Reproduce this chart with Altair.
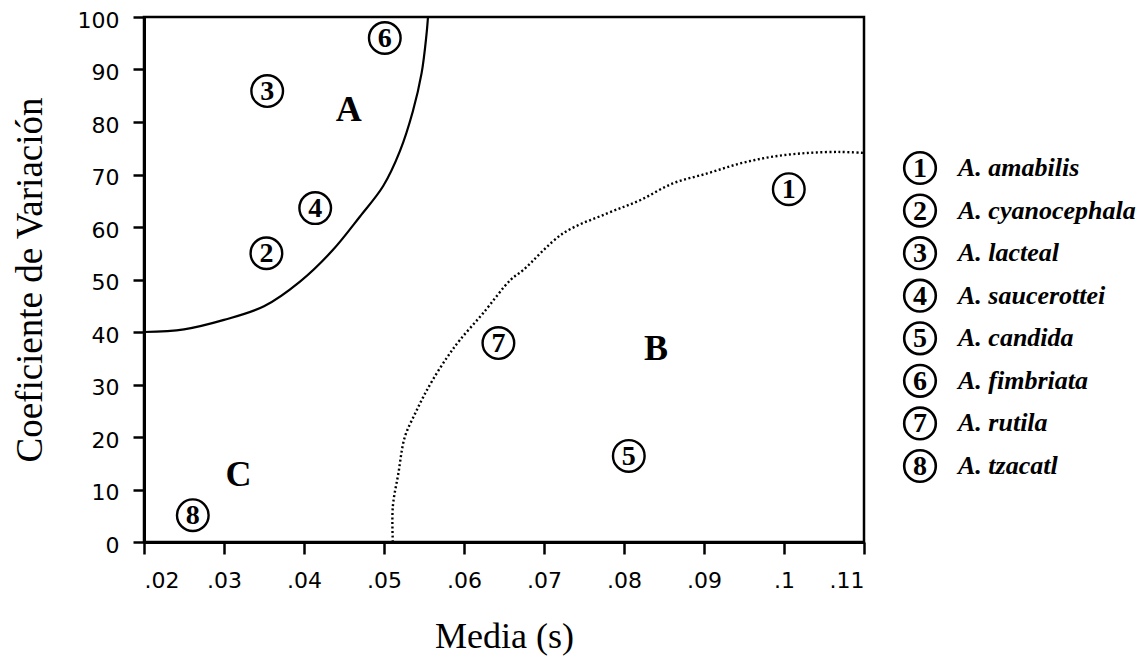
import altair as alt
import pandas as pd

# ---- data ----
species = ["A. amabilis", "A. cyanocephala", "A. lacteal", "A. saucerottei",
           "A. candida", "A. fimbriata", "A. rutila", "A. tzacatl"]
numbers = ["1", "2", "3", "4", "5", "6", "7", "8"]
media = [0.1006, 0.0353, 0.0354, 0.0414, 0.0806, 0.0501, 0.0643, 0.0261]
coef_var = [67.2, 55.0, 85.9, 63.6, 16.4, 96.0, 37.9, 5.1]

curve_a_x = [0.0200, 0.0250, 0.0300, 0.0350, 0.0395, 0.0436, 0.0470, 0.0499,
             0.0520, 0.0536, 0.0547, 0.0553, 0.0555]
curve_a_y = [40.0, 40.5, 42.3, 44.9, 49.6, 55.6, 62.0, 67.8,
             74.5, 82.0, 89.3, 96.5, 100.0]

curve_b_x = [0.0511, 0.0511, 0.0518, 0.0526, 0.0539, 0.0549, 0.0561, 0.0579,
             0.0595, 0.0624, 0.0658, 0.0674, 0.0724, 0.0779, 0.0820, 0.0861,
             0.0904, 0.0945, 0.0986, 0.1029, 0.1070, 0.1100]
curve_b_y = [0.0, 6.7, 13.1, 20.0, 24.5, 27.6, 30.9, 35.2,
             38.5, 43.6, 49.9, 51.8, 58.8, 62.6, 65.1, 68.3,
             70.2, 72.1, 73.4, 74.1, 74.3, 74.1]

region_labels = ["A", "B", "C"]
region_x = [0.0456, 0.0840, 0.0318]
region_y = [82.2, 36.7, 12.8]

x_tick_values = [0.02, 0.025, 0.03, 0.035, 0.04, 0.045, 0.05, 0.055, 0.06,
                 0.065, 0.07, 0.075, 0.08, 0.085, 0.09, 0.095, 0.1, 0.105, 0.11]
y_tick_values = [0, 10, 20, 30, 40, 50, 60, 70, 80, 90, 100]

# ---- tables ----
df_pts = pd.DataFrame({"species": species, "num": numbers, "media": media, "cv": coef_var})
df_a = pd.DataFrame({"x": curve_a_x, "y": curve_a_y, "i": list(range(len(curve_a_x)))})
df_b = pd.DataFrame({"x": curve_b_x, "y": curve_b_y, "i": list(range(len(curve_b_x)))})
df_reg = pd.DataFrame({"lab": region_labels, "x": region_x, "y": region_y})

SERIF = "Liberation Serif"
SANS = "DejaVu Sans"

xs = alt.Scale(domain=[0.02, 0.11], nice=False, zero=False)
ys = alt.Scale(domain=[0, 100], nice=False, zero=False)

major = "round(datum.value*200) % 2 == 0"
x_axis = alt.Axis(
    values=x_tick_values,
    title="Media (s)",
    labelExpr=major + " ? replace(format(datum.value, '.2~f'), '0.', '.') : ''",
    labelOverlap=False,
    labelFont=SANS, labelFontSize=22, labelColor="black", labelPadding=16,
    tickSize={"condition": {"test": major, "value": 12}, "value": 6},
    tickColor="black", tickWidth=2.5,
    domainColor="black", domainWidth=3,
    grid=False,
    titleFont=SERIF, titleFontSize=36, titleFontWeight="normal", titleColor="black",
    titlePadding=28,
)
y_axis = alt.Axis(
    values=y_tick_values,
    title="Coeficiente de Variación",
    labelFont=SANS, labelFontSize=22, labelColor="black", labelPadding=14,
    labelOffset=3,
    tickSize=11, tickColor="black", tickWidth=2.5,
    domainColor="black", domainWidth=3,
    grid=False,
    titleFont=SERIF, titleFontSize=37, titleFontWeight="normal", titleColor="black",
    titlePadding=28,
)

line_a = alt.Chart(df_a).mark_line(
    color="black", strokeWidth=2.2, interpolate="catmull-rom"
).encode(
    x=alt.X("x:Q", scale=xs, axis=x_axis),
    y=alt.Y("y:Q", scale=ys, axis=y_axis),
    order="i:Q",
)
line_b = alt.Chart(df_b).mark_line(
    color="black", strokeWidth=2.4, strokeDash=[2, 2.5], interpolate="catmull-rom"
).encode(
    x=alt.X("x:Q", scale=xs),
    y=alt.Y("y:Q", scale=ys),
    order="i:Q",
)
circles = alt.Chart(df_pts).mark_point(
    shape="circle", size=1000, filled=False, color="black", strokeWidth=2.4, opacity=1
).encode(
    x=alt.X("media:Q", scale=xs),
    y=alt.Y("cv:Q", scale=ys),
)
nums = alt.Chart(df_pts).mark_text(
    font=SERIF, fontSize=28, fontWeight="bold", color="black", baseline="middle", dy=1
).encode(
    x=alt.X("media:Q", scale=xs),
    y=alt.Y("cv:Q", scale=ys),
    text="num:N",
)
regions = alt.Chart(df_reg).mark_text(
    font=SERIF, fontSize=36, fontWeight="bold", color="black", baseline="middle"
).encode(
    x=alt.X("x:Q", scale=xs),
    y=alt.Y("y:Q", scale=ys),
    text="lab:N",
)

main = alt.layer(line_a, line_b, circles, nums, regions)

leg_y = alt.Y("species:N", sort=species, axis=None,
              scale=alt.Scale(type="point", range=[151, 449], padding=0))
leg_circ = alt.Chart(df_pts).mark_point(
    shape="circle", size=1000, filled=False, color="black", strokeWidth=2.6, opacity=1
).encode(x=alt.value(776), y=leg_y)
leg_num = alt.Chart(df_pts).mark_text(
    font=SERIF, fontSize=28, fontWeight="bold", color="black", baseline="middle", dy=1
).encode(x=alt.value(776), y=leg_y, text="num:N")
leg_text = alt.Chart(df_pts).mark_text(
    font=SERIF, fontSize=26, fontWeight="bold", fontStyle="italic", color="black",
    align="left", baseline="middle"
).encode(x=alt.value(814), y=leg_y, text="species:N")

legend = alt.layer(leg_circ, leg_num, leg_text)

chart = alt.layer(main, legend).resolve_scale(y="independent").properties(
    width=720, height=525,
    autosize=alt.AutoSizeParams(type="none"),
    padding={"left": 136, "top": 9, "right": 275, "bottom": 114},
    background="white",
).configure_view(stroke="black", strokeWidth=2.5)

chart.save("out.html", embed_options={"renderer": "svg", "actions": False})
